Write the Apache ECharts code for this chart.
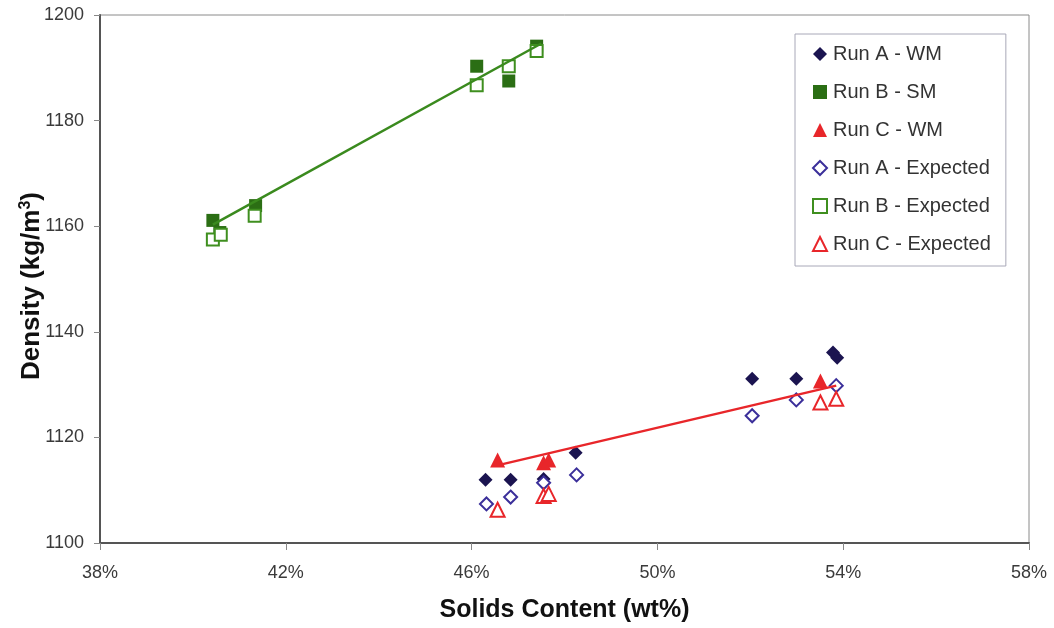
<!DOCTYPE html>
<html>
<head>
<meta charset="utf-8">
<script src="https://cdn.jsdelivr.net/npm/echarts@6/dist/echarts.min.js"></script>
<style>
  html, body { margin: 0; padding: 0; background: #fff; }
  #chart { width: 1054px; height: 628px; }
</style>
</head>
<body>
<div id="chart"></div>
<script>
// Solids content (wt%) and measured / expected density (kg/m3) for each run
const runA_WM = [[46.30, 1112.0], [46.84, 1112.0], [47.55, 1112.1], [48.24, 1117.1],
                 [52.04, 1131.1], [52.99, 1131.1], [53.78, 1136.1], [53.87, 1135.1]];
const runB_SM = [[40.43, 1161.1], [40.58, 1158.8], [41.35, 1163.9],
                 [46.11, 1190.3], [46.80, 1187.5], [47.40, 1194.1]];
const runC_WM = [[46.56, 1115.7], [47.55, 1115.2], [47.66, 1115.7], [53.51, 1130.7]];
const runA_Exp = [[46.32, 1107.4], [46.84, 1108.7], [47.55, 1111.4], [48.26, 1112.9],
                  [52.04, 1124.1], [52.99, 1127.1], [53.85, 1129.8]];
const runB_Exp = [[40.43, 1157.5], [40.60, 1158.4], [41.33, 1162.0],
                  [46.11, 1186.7], [46.80, 1190.3], [47.40, 1193.2]];
const runC_Exp = [[46.56, 1106.3], [47.55, 1108.9], [47.66, 1109.3], [53.51, 1126.6], [53.85, 1127.3]];

// Linear trend lines (end points)
const trendB = [[40.43, 1160.3], [47.50, 1194.6]];
const trendC = [[46.60, 1114.8], [53.85, 1129.8]];

// Axis ranges
const xMin = 38, xMax = 58, xStep = 4;
const yMin = 1100, yMax = 1200, yStep = 20;

const FONT = "'Liberation Sans', Arial, sans-serif";

function filled(name, data, symbol, size, color) {
  return {
    name, type: 'scatter', data, symbol, symbolSize: size,
    itemStyle: { color, opacity: 1 },
    emphasis: { disabled: true }
  };
}
function hollow(name, data, symbol, size, color) {
  return {
    name, type: 'scatter', data, symbol, symbolSize: size,
    itemStyle: { color: '#ffffff', borderColor: color, borderWidth: 2, opacity: 1 },
    emphasis: { disabled: true }
  };
}
function trend(data, color) {
  return {
    type: 'line', data, symbol: 'none', z: 5, silent: true,
    lineStyle: { color, width: 2.5 }
  };
}

const chart = echarts.init(document.getElementById('chart'), null, { renderer: 'canvas' });
chart.setOption({
  backgroundColor: '#ffffff',
  animation: false,
  textStyle: { fontFamily: FONT },
  grid: {
    left: 100, right: 25, top: 15, bottom: 85,
    outerBoundsMode: 'none',
    containLabel: false,
    show: true, borderColor: '#8a8a8a', borderWidth: 1, backgroundColor: '#ffffff'
  },
  legend: {
    orient: 'vertical',
    left: 795, top: 34,
    padding: [10, 15, 12, 17],
    itemGap: 18,
    itemWidth: 14, itemHeight: 14,
    borderColor: '#a8a8b8', borderWidth: 1,
    backgroundColor: '#ffffff',
    textStyle: { fontSize: 20, color: '#333333', fontFamily: FONT, padding: [0, 0, 0, 1] },
    data: ['Run A - WM', 'Run B - SM', 'Run C - WM',
           'Run A - Expected', 'Run B - Expected', 'Run C - Expected']
  },
  xAxis: {
    type: 'value', min: xMin, max: xMax, interval: xStep,
    name: 'Solids Content (wt%)',
    nameLocation: 'middle', nameGap: 55,
    nameMoveOverlap: false,
    nameTextStyle: { fontSize: 25, fontWeight: 'bold', color: '#111111', fontFamily: FONT },
    axisLine: { show: true, lineStyle: { color: '#555555', width: 2 } },
    axisTick: { show: true, length: 7, lineStyle: { color: '#888888' } },
    axisLabel: { fontSize: 18, color: '#3a3a3a', margin: 21, formatter: v => v + '%' },
    splitLine: { show: false }
  },
  yAxis: {
    type: 'value', min: yMin, max: yMax, interval: yStep,
    name: 'Density (kg/m{sup|3})',
    nameLocation: 'middle', nameGap: 54,
    nameMoveOverlap: false,
    nameTextStyle: {
      fontSize: 26, fontWeight: 'bold', color: '#111111', fontFamily: FONT,
      padding: [0, 14, 0, 0],
      rich: { sup: { fontSize: 16, fontWeight: 'bold', color: '#111111', verticalAlign: 'top', padding: [0, 0, 12, 0] } }
    },
    axisLine: { show: true, lineStyle: { color: '#555555', width: 2 } },
    axisTick: { show: true, length: 6, lineStyle: { color: '#888888' } },
    axisLabel: { fontSize: 18, color: '#3a3a3a', margin: 16, formatter: v => String(v) },
    splitLine: { show: false }
  },
  series: [
    filled('Run A - WM', runA_WM, 'diamond', 14, '#1b1450'),
    filled('Run B - SM', runB_SM, 'rect', 13, '#2b6e14'),
    filled('Run C - WM', runC_WM, 'triangle', 15, '#e8262a'),
    hollow('Run A - Expected', runA_Exp, 'diamond', 13, '#3b2f9a'),
    hollow('Run B - Expected', runB_Exp, 'rect', 12, '#3f8f1f'),
    hollow('Run C - Expected', runC_Exp, 'triangle', 14, '#e8262a'),
    trend(trendB, '#3a8a1e'),
    trend(trendC, '#e8262a')
  ]
});
</script>
</body>
</html>
